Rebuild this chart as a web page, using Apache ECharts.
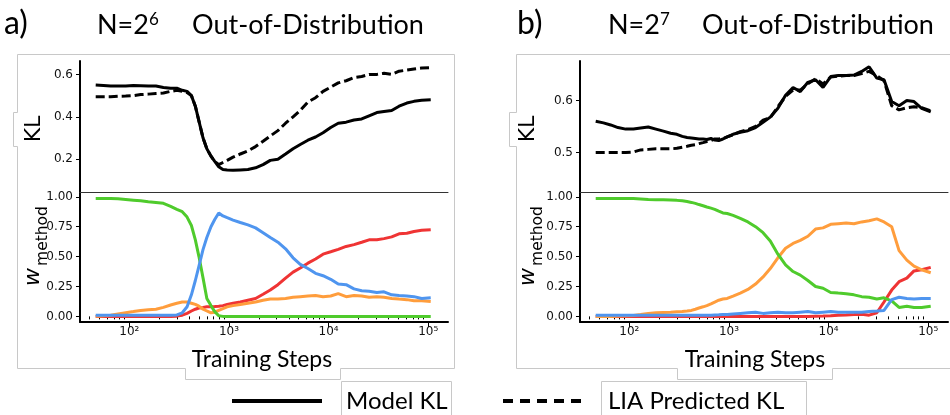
<!DOCTYPE html>
<html>
<head>
<meta charset="utf-8">
<style>html,body{margin:0;padding:0;background:#fff;}</style>
</head>
<body>
<div id="container" style="width:950px;height:415px;"></div>
<script src="https://cdn.jsdelivr.net/npm/echarts@6/dist/echarts.min.js"></script>
<script type="text/javascript">
// training steps (shared by both panels)
var steps = [46, 55, 65, 77, 92, 110, 130, 155, 185, 220, 260, 300, 340, 380, 420, 460, 500, 550, 600, 660,
    720, 790, 870, 960, 1100, 1300, 1550, 1850, 2200, 2600, 3100, 3700, 4400, 5200, 6200, 7400, 8800, 10500,
    12500, 15000, 18000, 21500, 25500, 30500, 36000, 43000, 51000, 61000, 72000, 86000, 106000];

// panel a) N=2^6
var klModelA = [0.55, 0.548, 0.545, 0.545, 0.545, 0.548, 0.547, 0.545, 0.545, 0.538,
    0.535, 0.535, 0.525, 0.52, 0.50, 0.45, 0.38, 0.30, 0.25, 0.215,
    0.19, 0.165, 0.152, 0.15, 0.148, 0.15, 0.152, 0.16, 0.175, 0.195,
    0.2, 0.225, 0.25, 0.27, 0.29, 0.305, 0.325, 0.35, 0.37, 0.375,
    0.385, 0.39, 0.405, 0.42, 0.425, 0.43, 0.45, 0.465, 0.473, 0.478, 0.48];
var klLiaA = [0.495, 0.495, 0.495, 0.497, 0.498, 0.50, 0.505, 0.507, 0.51, 0.512,
    0.52, 0.525, 0.52, 0.515, 0.50, 0.45, 0.38, 0.30, 0.25, 0.215,
    0.19, 0.175, 0.185, 0.195, 0.21, 0.225, 0.24, 0.26, 0.285, 0.31,
    0.335, 0.37, 0.40, 0.43, 0.47, 0.49, 0.52, 0.54, 0.56, 0.57,
    0.585, 0.59, 0.60, 0.60, 0.605, 0.60, 0.615, 0.62, 0.625, 0.63, 0.632];
var greenA = [0.985, 0.985, 0.985, 0.983, 0.978, 0.972, 0.966, 0.958, 0.952, 0.945,
    0.92, 0.895, 0.875, 0.83, 0.76, 0.64, 0.50, 0.32, 0.15, 0.09,
    0.04, 0.005, 0, 0, 0, 0, 0, 0, 0, 0,
    0, 0, 0, 0, 0, 0, 0, 0, 0, 0,
    0, 0, 0, 0, 0, 0, 0, 0, 0, 0, 0];
var orangeA = [0.0, 0.005, 0.01, 0.02, 0.03, 0.04, 0.05, 0.055, 0.06, 0.075,
    0.095, 0.11, 0.12, 0.12, 0.11, 0.1, 0.085, 0.06, 0.045, 0.03,
    0.035, 0.05, 0.065, 0.08, 0.09, 0.1, 0.11, 0.12, 0.135, 0.145,
    0.145, 0.15, 0.16, 0.165, 0.17, 0.175, 0.165, 0.17, 0.19, 0.165,
    0.175, 0.17, 0.16, 0.165, 0.16, 0.15, 0.145, 0.14, 0.13, 0.13, 0.125];
var redA = [0, 0, 0, 0, 0, 0, 0, 0, 0, 0,
    0, 0.002, 0.01, 0.025, 0.045, 0.06, 0.07, 0.075, 0.08, 0.08,
    0.082, 0.085, 0.09, 0.1, 0.11, 0.12, 0.135, 0.15, 0.185, 0.22,
    0.265, 0.32, 0.37, 0.405, 0.445, 0.48, 0.52, 0.54, 0.56, 0.585,
    0.60, 0.62, 0.64, 0.64, 0.65, 0.665, 0.69, 0.695, 0.71, 0.72, 0.725];
var blueA = [0.01, 0.01, 0.01, 0.01, 0.01, 0.01, 0.01, 0.01, 0.01, 0.01,
    0.01, 0.012, 0.03, 0.08, 0.18, 0.30, 0.42, 0.56, 0.66, 0.75,
    0.81, 0.865, 0.84, 0.825, 0.805, 0.785, 0.765, 0.74, 0.70, 0.66,
    0.62, 0.565, 0.49, 0.435, 0.40, 0.36, 0.34, 0.31, 0.27, 0.265,
    0.23, 0.215, 0.21, 0.20, 0.205, 0.18, 0.175, 0.17, 0.165, 0.15, 0.155];

// panel b) N=2^7
var klModelB = [0.56, 0.557, 0.553, 0.548, 0.545, 0.545, 0.547, 0.549, 0.545, 0.541,
    0.537, 0.535, 0.531, 0.529, 0.528, 0.527, 0.526, 0.526, 0.525, 0.527,
    0.524, 0.523, 0.526, 0.53, 0.535, 0.539, 0.542, 0.548, 0.558, 0.568,
    0.585, 0.61, 0.625, 0.617, 0.635, 0.64, 0.625, 0.646, 0.648, 0.648,
    0.649, 0.656, 0.665, 0.643, 0.64, 0.598, 0.59, 0.6, 0.598, 0.585, 0.578];
var klLiaB = [0.5, 0.5, 0.5, 0.5, 0.5, 0.501, 0.505, 0.506, 0.507, 0.507,
    0.507, 0.508, 0.51, 0.512, 0.514, 0.515, 0.517, 0.519, 0.521, 0.523,
    0.526, 0.526, 0.527, 0.53, 0.534, 0.54, 0.544, 0.55, 0.562, 0.567,
    0.588, 0.608, 0.62, 0.62, 0.632, 0.642, 0.632, 0.645, 0.647, 0.648,
    0.648, 0.652, 0.656, 0.648, 0.638, 0.59, 0.582, 0.586, 0.588, 0.586, 0.58];
var greenB = [0.985, 0.985, 0.985, 0.985, 0.985, 0.985, 0.982, 0.977, 0.975, 0.975,
    0.973, 0.97, 0.966, 0.96, 0.953, 0.945, 0.935, 0.925, 0.915, 0.905,
    0.895, 0.88, 0.865, 0.86, 0.845, 0.82, 0.79, 0.75, 0.70, 0.63,
    0.52, 0.43, 0.375, 0.345, 0.30, 0.25, 0.235, 0.20, 0.195, 0.19,
    0.18, 0.165, 0.16, 0.145, 0.155, 0.13, 0.075, 0.085, 0.075, 0.075, 0.085];
var orangeB = [0, 0, 0, 0.003, 0.005, 0.008, 0.015, 0.025, 0.03, 0.033,
    0.035, 0.038, 0.04, 0.045, 0.05, 0.06, 0.07, 0.08, 0.09, 0.105,
    0.12, 0.135, 0.145, 0.15, 0.17, 0.195, 0.225, 0.27, 0.33, 0.40,
    0.49, 0.57, 0.61, 0.635, 0.67, 0.73, 0.74, 0.77, 0.775, 0.78,
    0.775, 0.79, 0.80, 0.815, 0.79, 0.75, 0.55, 0.47, 0.42, 0.39, 0.365];
var redB = [0, 0, 0, 0, 0, 0, 0, 0, 0, 0,
    0, 0, 0, 0, 0, 0, 0, 0, 0, 0,
    0, 0, 0, 0, 0, 0, 0, 0, 0, 0,
    0, 0, 0, 0, 0, 0.002, 0.003, 0.005, 0.01, 0.012,
    0.015, 0.018, 0.01, 0.03, 0.12, 0.22, 0.29, 0.32, 0.38, 0.39, 0.41];
var blueB = [0.01, 0.01, 0.01, 0.01, 0.01, 0.01, 0.01, 0.01, 0.01, 0.01,
    0.01, 0.01, 0.01, 0.01, 0.01, 0.01, 0.01, 0.01, 0.01, 0.01,
    0.012, 0.013, 0.015, 0.015, 0.02, 0.025, 0.03, 0.035, 0.025, 0.03,
    0.035, 0.03, 0.03, 0.035, 0.04, 0.03, 0.035, 0.04, 0.035, 0.035,
    0.035, 0.035, 0.04, 0.045, 0.05, 0.14, 0.16, 0.15, 0.145, 0.15, 0.15];

// ticks
var xTicks = [100, 1000, 10000, 100000];
var xTickLabels = ['10²', '10³', '10⁴', '10⁵'];
var xMinorTicks = [40, 50, 60, 70, 80, 90, 200, 300, 400, 500, 600, 700, 800, 900,
    2000, 3000, 4000, 5000, 6000, 7000, 8000, 9000, 20000, 30000, 40000, 50000, 60000, 70000, 80000, 90000];
var klTicksA = [0.2, 0.4, 0.6];
var klTicksB = [0.5, 0.6];
var wTicks = [0, 0.25, 0.5, 0.75, 1];

var GREEN = '#4fcb2c', ORANGE = '#ff9d3c', RED = '#ef3434', BLUE = '#4f95ef';
var FIG_FONT = 'Lato';
var TICK_FONT = 'DejaVu Sans';
var xMin = 32, xMax = 158000;

var dom = document.getElementById('container');
var myChart = echarts.init(dom);

function pts(ys) {
    return steps.map(function (s, i) { return [s, ys[i]]; });
}

function topX(grid) {
    return {
        type: 'log', gridIndex: grid, min: xMin, max: xMax,
        axisLine: {show: true, onZero: false, lineStyle: {color: '#333', width: 1}},
        axisTick: {show: false}, axisLabel: {show: false}, splitLine: {show: false}
    };
}
function mainX(grid) {
    return {
        type: 'log', gridIndex: grid, position: 'bottom', min: xMin, max: xMax,
        axisLine: {show: true, onZero: false, lineStyle: {color: '#000', width: 2}},
        axisTick: {show: true, length: 5, customValues: xTicks, lineStyle: {color: '#000', width: 1}},
        axisLabel: {
            show: true, customValues: xTicks, margin: 4, color: '#111',
            fontFamily: TICK_FONT, fontSize: 12,
            formatter: function (v) { return xTickLabels[Math.round(Math.log10(v)) - 2]; }
        },
        splitLine: {show: false}
    };
}
function minorX(grid) {
    return {
        type: 'log', gridIndex: grid, position: 'bottom', min: xMin, max: xMax,
        axisLine: {show: false},
        axisTick: {show: true, length: 3, customValues: xMinorTicks, lineStyle: {color: '#000', width: 1}},
        axisLabel: {show: false}, splitLine: {show: false}
    };
}
function yAx(grid, min, max, ticks, digits) {
    return {
        type: 'value', gridIndex: grid, min: min, max: max,
        axisLine: {show: true, onZero: false, lineStyle: {color: '#000', width: 2}},
        axisTick: {show: true, length: 4, customValues: ticks, lineStyle: {color: '#000', width: 1}},
        axisLabel: {
            show: true, customValues: ticks, margin: 7, color: '#111',
            fontFamily: TICK_FONT, fontSize: 12,
            formatter: function (v) { return v.toFixed(digits); }
        },
        splitLine: {show: false}
    };
}
function line(name, xi, yi, ys, color, dashed) {
    return {
        name: name, type: 'line', xAxisIndex: xi, yAxisIndex: yi, data: pts(ys),
        showSymbol: false, symbol: 'none', silent: true,
        lineStyle: {color: color, width: 3, type: dashed ? [9, 4] : 'solid'},
        itemStyle: {color: color}
    };
}
function txt(x, y, text, size, opts) {
    opts = opts || {};
    return {
        type: 'text', x: x, y: y, rotation: opts.rot || 0, silent: true,
        style: {
            text: text, fill: '#000', fontSize: size, fontFamily: opts.font || FIG_FONT,
            fontStyle: opts.italic ? 'italic' : 'normal',
            align: opts.align || 'left', verticalAlign: 'middle', rich: opts.rich
        }
    };
}
var supRich = {
    n: {fontSize: 27, fontFamily: FIG_FONT, fill: '#000'},
    s: {fontSize: 17, fontFamily: FIG_FONT, fill: '#000', verticalAlign: 'top'}
};
var boxStyle = {fill: 'none', stroke: '#c8c8c8', lineWidth: 1};

option = {
    animation: false,
    backgroundColor: '#fff',
    grid: [
        {left: 80, top: 61, width: 368, height: 131, outerBoundsMode: 'none'},
        {left: 80, top: 192, width: 368, height: 130, outerBoundsMode: 'none'},
        {left: 580, top: 61, width: 368, height: 131, outerBoundsMode: 'none'},
        {left: 580, top: 192, width: 368, height: 130, outerBoundsMode: 'none'}
    ],
    xAxis: [topX(0), mainX(1), minorX(1), topX(2), mainX(3), minorX(3)],
    yAxis: [
        yAx(0, 0.046, 0.663, klTicksA, 1),
        yAx(1, -0.047, 1.04, wTicks, 2),
        yAx(2, 0.424, 0.676, klTicksB, 1),
        yAx(3, -0.047, 1.04, wTicks, 2)
    ],
    series: [
        line('Model KL', 0, 0, klModelA, '#000', false),
        line('LIA Predicted KL', 0, 0, klLiaA, '#000', true),
        line('red', 1, 1, redA, RED),
        line('orange', 1, 1, orangeA, ORANGE),
        line('green', 1, 1, greenA, GREEN),
        line('blue', 1, 1, blueA, BLUE),
        line('Model KL', 3, 2, klModelB, '#000', false),
        line('LIA Predicted KL', 3, 2, klLiaB, '#000', true),
        line('red', 4, 3, redB, RED),
        line('orange', 4, 3, orangeB, ORANGE),
        line('green', 4, 3, greenB, GREEN),
        line('blue', 4, 3, blueB, BLUE)
    ],
    graphic: [
        // frames of the two panels
        {type: 'polygon', silent: true, style: boxStyle, shape: {points: [
            [13.5, 112.5], [17.5, 112.5], [17.5, 54.5], [454.5, 54.5], [454.5, 368.5], [340.5, 368.5],
            [340.5, 379.5], [185.5, 379.5], [185.5, 368.5], [17.5, 368.5], [17.5, 146.5], [13.5, 146.5]]}},
        {type: 'polyline', silent: true, style: boxStyle, shape: {points: [
            [951, 54.5], [516.5, 54.5], [516.5, 112.5], [509.5, 112.5], [509.5, 146.5], [516.5, 146.5],
            [516.5, 368.5], [677.5, 368.5], [677.5, 379.5], [832.5, 379.5], [832.5, 368.5], [951, 368.5]]}},
        // titles
        txt(4, 24, 'a)', 32),
        txt(97, 25, '{n|N=2}{s|6}', 27, {rich: supRich}),
        txt(192, 25, 'Out-of-Distribution', 27),
        txt(517, 24, 'b)', 32),
        txt(608, 25, '{n|N=2}{s|7}', 27, {rich: supRich}),
        txt(702, 25, 'Out-of-Distribution', 27),
        // y labels
        txt(34, 129, 'KL', 22, {rot: Math.PI / 2, align: 'center', font: TICK_FONT}),
        txt(33, 277, 'w', 22, {rot: Math.PI / 2, align: 'center', font: TICK_FONT, italic: true}),
        txt(43, 236, 'method', 15.5, {rot: Math.PI / 2, align: 'center', font: TICK_FONT}),
        txt(528, 129, 'KL', 22, {rot: Math.PI / 2, align: 'center', font: TICK_FONT}),
        txt(528, 277, 'w', 22, {rot: Math.PI / 2, align: 'center', font: TICK_FONT, italic: true}),
        txt(538, 236, 'method', 15.5, {rot: Math.PI / 2, align: 'center', font: TICK_FONT}),
        // x labels
        txt(262, 360, 'Training Steps', 23, {align: 'center'}),
        txt(755, 360, 'Training Steps', 23, {align: 'center'}),
        // legend
        {type: 'line', silent: true, shape: {x1: 232, y1: 401, x2: 322, y2: 401},
            style: {stroke: '#000', lineWidth: 4}},
        {type: 'line', silent: true, shape: {x1: 503, y1: 401, x2: 581, y2: 401},
            style: {stroke: '#000', lineWidth: 4, lineDash: [10, 7]}},
        {type: 'rect', silent: true, shape: {x: 341.5, y: 381.5, width: 110, height: 40}, style: boxStyle},
        {type: 'rect', silent: true, shape: {x: 601.5, y: 381.5, width: 205, height: 40}, style: boxStyle},
        txt(346, 401, 'Model KL', 24),
        txt(608, 401, 'LIA Predicted KL', 24)
    ]
};

if (option && typeof option === "object") {
    myChart.setOption(option, true);
}
</script>
</body>
</html>
